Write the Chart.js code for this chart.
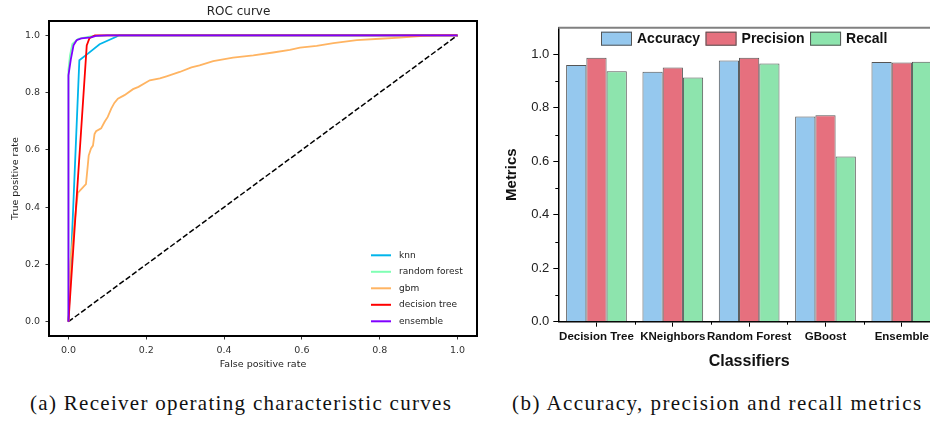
<!DOCTYPE html>
<html>
<head>
<meta charset="utf-8">
<script src="https://cdn.jsdelivr.net/npm/chart.js@4.4.1/dist/chart.umd.min.js"></script>
<style>
  html, body { margin: 0; padding: 0; background: #fff; }
  body { width: 930px; height: 421px; overflow: hidden; position: relative; }
  canvas { position: absolute; top: 0; }
  #roc { left: 0; z-index: 1; }
  #metrics { left: 490px; z-index: 2; }
  .caption {
    position: absolute; top: 391px; white-space: nowrap;
    font-family: "Liberation Serif", serif; font-size: 21px; color: #111;
    letter-spacing: 1.3px;
  }
</style>
</head>
<body>
<canvas id="roc" width="526" height="380"></canvas>
<canvas id="metrics" width="460" height="380"></canvas>
<div class="caption" style="left:30px">(a) Receiver operating characteristic curves</div>
<div class="caption" style="left:512px; letter-spacing:1.45px">(b) Accuracy, precision and recall metrics</div>

<script>
// ROC curves (fpr / tpr pairs)
const rocTicks = [0, 0.2, 0.4, 0.6, 0.8, 1.0];

const knnFpr = [0, 0.028, 0.05, 0.08, 0.123, 0.13, 1];
const knnTpr = [0, 0.913, 0.936, 0.969, 0.995, 1.0, 1];

const rfFpr = [0, 0, 0.004, 0.01, 0.025, 0.06, 0.1, 1];
const rfTpr = [0, 0.88, 0.93, 0.97, 0.988, 0.997, 1.0, 1];

const gbmFpr = [0, 0.005, 0.024, 0.045, 0.05, 0.052, 0.058, 0.063, 0.067, 0.071, 0.084, 0.093, 0.101,
  0.11, 0.118, 0.127, 0.144, 0.166, 0.18, 0.209, 0.235, 0.252, 0.286, 0.316, 0.337, 0.372, 0.423,
  0.475, 0.526, 0.569, 0.595, 0.638, 0.681, 0.741, 0.8, 0.852, 0.912, 0.95, 1];
const gbmTpr = [0, 0.21, 0.45, 0.48, 0.55, 0.58, 0.605, 0.615, 0.655, 0.665, 0.675, 0.698, 0.715,
  0.744, 0.764, 0.779, 0.791, 0.812, 0.82, 0.843, 0.85, 0.857, 0.872, 0.888, 0.895, 0.91, 0.922,
  0.93, 0.94, 0.949, 0.957, 0.963, 0.973, 0.983, 0.988, 0.992, 0.998, 1.0, 1];

const dtFpr = [0, 0.047, 0.054, 0.068, 1];
const dtTpr = [0, 0.965, 0.99, 1.0, 1];

const ensFpr = [0, 0, 0.006, 0.013, 0.021, 0.033, 0.058, 0.071, 0.1, 1];
const ensTpr = [0, 0.86, 0.915, 0.965, 0.983, 0.989, 0.993, 0.998, 1.0, 1];

const chanceFpr = [0, 1];
const chanceTpr = [0, 1];

// bar chart
const classifiers = ['Decision Tree', 'KNeighbors', 'Random Forest', 'GBoost', 'Ensemble'];
const accuracy  = [0.960, 0.935, 0.977, 0.768, 0.972];
const precision = [0.988, 0.951, 0.988, 0.772, 0.970];
const recall    = [0.937, 0.914, 0.966, 0.618, 0.973];
const metricTicks = [0, 0.2, 0.4, 0.6, 0.8, 1.0];

const toPoints = (xs, ys) => xs.map((x, i) => ({x: x, y: ys[i]}));

const curve = (label, xs, ys, color, order) => ({
    label: label,
    data: toPoints(xs, ys),
    borderColor: color,
    backgroundColor: color,
    borderWidth: 1.8,
    pointRadius: 0,
    tension: 0,
    order: order
});

// legend drawn inside the axes, bottom right
const rocLegend = {
    id: 'rocLegend',
    afterDraw(chart) {
        const {ctx, chartArea} = chart;
        const items = chart.data.datasets.filter(d => d.label);
        ctx.save();
        ctx.font = '9px "DejaVu Sans"';
        ctx.textBaseline = 'middle';
        items.forEach((d, i) => {
            const y = chartArea.bottom - 14.7 - (items.length - 1 - i) * 16.5;
            const x = chartArea.right - 106;
            ctx.strokeStyle = d.borderColor;
            ctx.lineWidth = 2;
            ctx.beginPath();
            ctx.moveTo(x, y);
            ctx.lineTo(x + 20, y);
            ctx.stroke();
            ctx.fillStyle = '#222';
            ctx.fillText(d.label, x + 28, y);
        });
        ctx.restore();
    }
};

const rocFrame = {
    id: 'rocFrame',
    afterDraw(chart) {
        const {ctx, chartArea} = chart;
        ctx.save();
        ctx.strokeStyle = '#000';
        ctx.lineWidth = 2;
        ctx.strokeRect(chartArea.left, chartArea.top, chartArea.right - chartArea.left, chartArea.bottom - chartArea.top);
        ctx.restore();
    }
};

const rocTickFont = {family: 'DejaVu Sans', size: 9.5};

new Chart(document.getElementById('roc').getContext('2d'), {
    type: 'line',
    data: {
        datasets: [
            curve('knn', knnFpr, knnTpr, '#00b5eb', 4),
            curve('random forest', rfFpr, rfTpr, '#80ffb4', 3),
            curve('gbm', gbmFpr, gbmTpr, '#ffb462', 2),
            curve('decision tree', dtFpr, dtTpr, '#ff0000', 1),
            curve('ensemble', ensFpr, ensTpr, '#8000ff', 0),
            {
                data: toPoints(chanceFpr, chanceTpr),
                borderColor: '#000',
                borderWidth: 1.5,
                borderDash: [5.5, 2.4],
                pointRadius: 0,
                order: 5
            }
        ]
    },
    options: {
        responsive: false,
        animation: false,
        events: [],
        layout: {padding: {left: 0, right: 49, top: 0, bottom: 0}},
        plugins: {
            legend: {display: false},
            tooltip: {enabled: false},
            title: {
                display: true,
                text: 'ROC curve',
                color: '#222',
                font: {family: 'DejaVu Sans', size: 12, weight: 'normal'},
                padding: {top: 4.5, bottom: 2.1}
            }
        },
        scales: {
            x: {
                type: 'linear',
                min: -0.05, max: 1.05,
                afterBuildTicks: s => { s.ticks = rocTicks.map(v => ({value: v})); },
                afterFit: s => { s.height = 44; },
                ticks: {color: '#333', font: rocTickFont, padding: 5, maxRotation: 0,
                        callback: v => v.toFixed(1)},
                grid: {drawOnChartArea: false, tickLength: 3.5, tickColor: '#333'},
                border: {display: false},
                title: {display: true, text: 'False positive rate', color: '#222',
                        font: {family: 'DejaVu Sans', size: 9.5}, padding: {top: 0, bottom: 9.3}}
            },
            y: {
                type: 'linear',
                min: -0.05, max: 1.05,
                afterBuildTicks: s => { s.ticks = rocTicks.map(v => ({value: v})); },
                afterFit: s => { s.width = 49; },
                ticks: {color: '#333', font: rocTickFont, padding: 5.5,
                        callback: v => v.toFixed(1)},
                grid: {drawOnChartArea: false, tickLength: 3.5, tickColor: '#333'},
                border: {display: false},
                title: {display: true, text: 'True positive rate', color: '#222',
                        font: {family: 'DejaVu Sans', size: 9.5}, padding: {top: 10.3, bottom: 0}}
            }
        }
    },
    plugins: [rocFrame, rocLegend]
});

// legend boxes inside the top of the axes
const barLegend = {
    id: 'barLegend',
    afterDraw(chart) {
        const {ctx, chartArea} = chart;
        const top = chartArea.top + 4;
        let x = chartArea.left + 42.7;
        ctx.save();
        ctx.font = 'bold 14px "Liberation Sans"';
        ctx.textBaseline = 'middle';
        chart.data.datasets.forEach(d => {
            ctx.fillStyle = d.backgroundColor;
            ctx.fillRect(x, top, 31, 14);
            ctx.strokeStyle = '#555';
            ctx.lineWidth = 1;
            ctx.strokeRect(x + 0.5, top + 0.5, 30, 13);
            ctx.fillStyle = '#111';
            ctx.fillText(d.label, x + 36, top + 7.5);
            x += 36 + ctx.measureText(d.label).width + 5.5;
        });
        ctx.restore();
    }
};

// top frame line and minor ticks
const barFrame = {
    id: 'barFrame',
    afterDraw(chart) {
        const {ctx, chartArea, scales} = chart;
        ctx.save();
        ctx.strokeStyle = '#808080';
        ctx.lineWidth = 2;
        ctx.beginPath();
        ctx.moveTo(chartArea.left, chartArea.top);
        ctx.lineTo(chartArea.right, chartArea.top);
        ctx.stroke();
        ctx.strokeStyle = '#000';
        ctx.lineWidth = 1;
        for (let i = 0; i < metricTicks.length - 1; i++) {
            const y = Math.round(scales.y.getPixelForValue((metricTicks[i] + metricTicks[i + 1]) / 2)) + 0.5;
            ctx.beginPath();
            ctx.moveTo(chartArea.left - 3, y);
            ctx.lineTo(chartArea.left, y);
            ctx.stroke();
        }
        for (let i = 0; i < classifiers.length - 1; i++) {
            const x = Math.round((scales.x.getPixelForValue(i) + scales.x.getPixelForValue(i + 1)) / 2) + 0.5;
            ctx.beginPath();
            ctx.moveTo(x, chartArea.bottom);
            ctx.lineTo(x, chartArea.bottom + 3);
            ctx.stroke();
        }
        ctx.restore();
    }
};

const bar = (label, values, color) => ({
    label: label,
    data: values,
    backgroundColor: color,
    borderColor: '#555',
    borderWidth: 1,
    categoryPercentage: 0.795,
    barPercentage: 1.0
});

new Chart(document.getElementById('metrics').getContext('2d'), {
    type: 'bar',
    data: {
        labels: classifiers,
        datasets: [
            bar('Accuracy', accuracy, '#95c8ee'),
            bar('Precision', precision, '#e6707e'),
            bar('Recall', recall, '#8de4ad')
        ]
    },
    options: {
        responsive: false,
        animation: false,
        events: [],
        layout: {padding: {left: 0, right: 10, top: 27.7, bottom: 0}},
        plugins: {legend: {display: false}, tooltip: {enabled: false}},
        scales: {
            x: {
                offset: true,
                afterFit: s => { s.height = 58.3; },
                ticks: {color: '#111', font: {family: 'Liberation Sans', size: 11.5, weight: 'bold'},
                        padding: 3, autoSkip: false, maxRotation: 0},
                grid: {drawOnChartArea: false, offset: false, tickLength: 5, tickColor: '#000'},
                border: {display: true, color: '#000', width: 1.5},
                title: {display: true, text: 'Classifiers', color: '#111',
                        font: {family: 'Liberation Sans', size: 16, weight: 'bold'}, padding: {top: 0, bottom: 8.7}}
            },
            y: {
                min: 0, max: 1.1,
                afterBuildTicks: s => { s.ticks = metricTicks.map(v => ({value: v})); },
                afterFit: s => { s.width = 68.3; },
                ticks: {color: '#222', font: {family: 'Liberation Sans', size: 13}, padding: 4,
                        callback: v => v.toFixed(1)},
                grid: {drawOnChartArea: false, tickLength: 5, tickColor: '#000'},
                border: {display: true, color: '#000', width: 1.5},
                title: {display: true, text: 'Metrics', color: '#111',
                        font: {family: 'Liberation Sans', size: 15, weight: 'bold'}, padding: {top: 12.7, bottom: 0}}
            }
        }
    },
    plugins: [barFrame, barLegend]
});
</script>
</body>
</html>
